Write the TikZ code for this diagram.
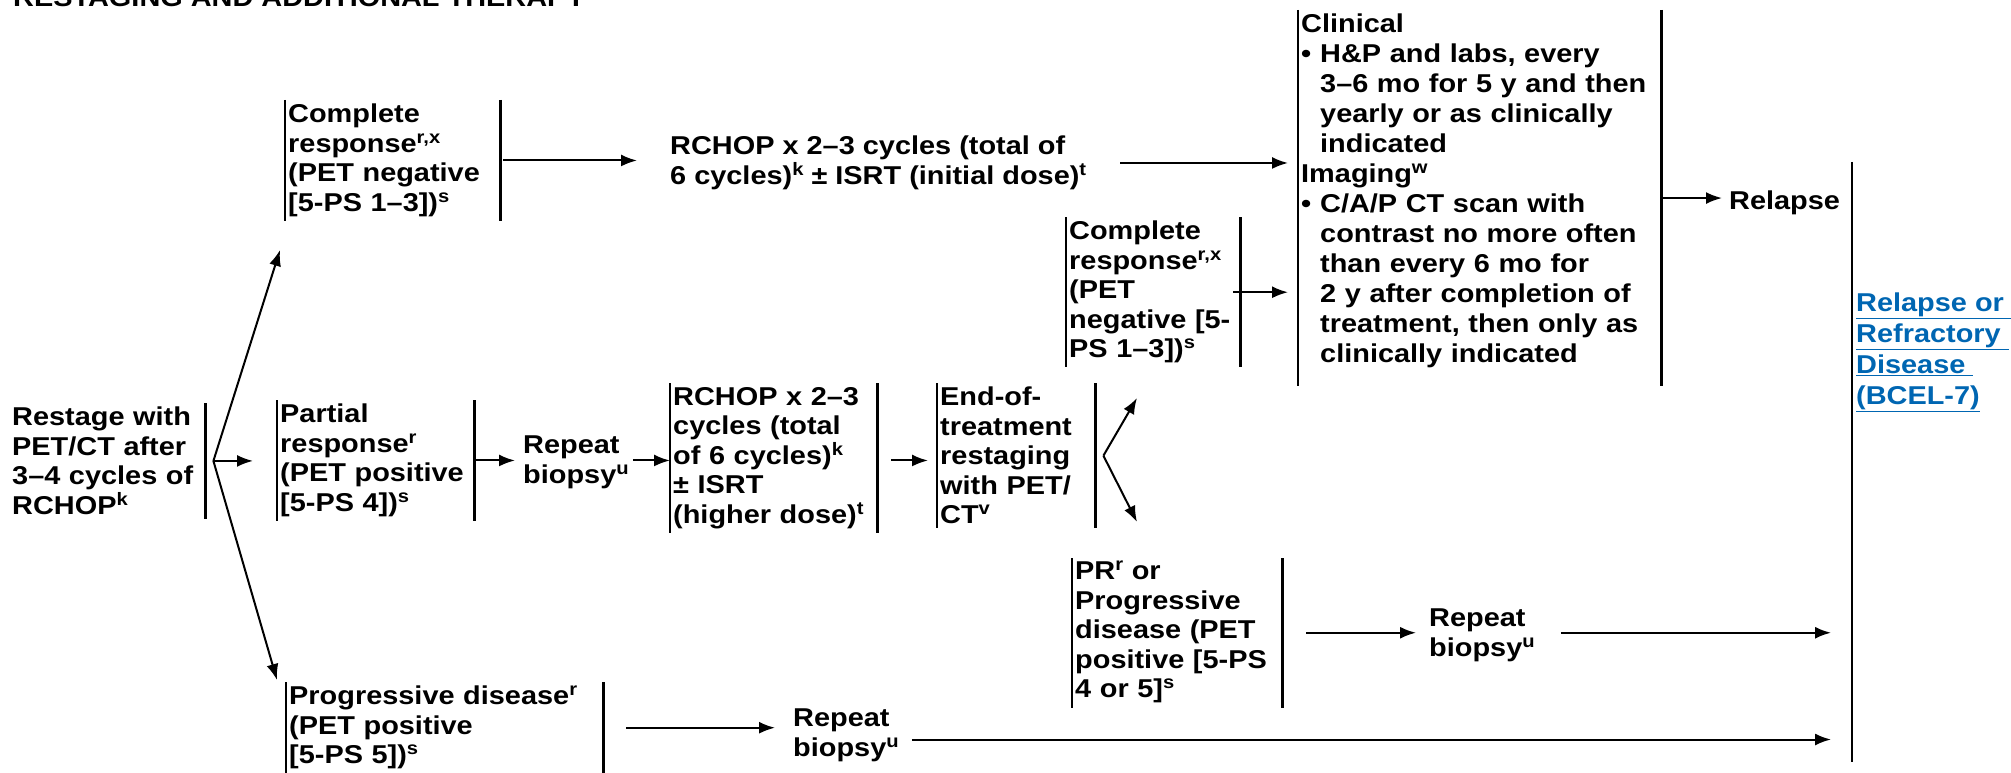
\documentclass[tikz,border=0pt]{standalone}
\usepackage{fontspec}
\usepackage{tikz}
\usetikzlibrary{arrows.meta,calc}
\newfontfamily\chartfont{Liberation Sans}[FakeStretch=1.12]
\definecolor{linkblue}{RGB}{0,102,178}
\newcommand{\gfont}{\chartfont\bfseries\fontsize{25.8}{29.5}\selectfont}
\newcommand{\gfontw}{\chartfont\bfseries\fontsize{25.8}{30}\selectfont}
\newcommand{\gfontl}{\chartfont\bfseries\fontsize{25.8}{31}\selectfont}
\newcommand{\supr}[1]{\smash{\raisebox{9pt}{\fontsize{18}{18}\selectfont #1}}}
\newcommand{\barw}{2.2pt}
\newcommand{\arrw}{2pt}

\begin{document}
\begin{tikzpicture}[x=1pt,y=-1pt]
        \tikzset{
            barline/.style = {line width=\barw},
            txt/.style = {anchor=north west, align=left, font=\gfont, inner sep=0pt},
            box/.style = {anchor=north west, align=left, font=\gfont, inner xsep=3pt, inner ysep=4pt,
                append after command={\pgfextra{\draw[barline] (\tikzlastnode.north west) -- (\tikzlastnode.south west)
                    (\tikzlastnode.north east) -- (\tikzlastnode.south east);}}},
            rbox/.style = {anchor=north west, align=left, font=\gfont, inner xsep=3pt, inner ysep=4pt,
                append after command={\pgfextra{\draw[barline] (\tikzlastnode.north east) -- (\tikzlastnode.south east);}}},
            lbox/.style = {anchor=north west, inner sep=0pt, minimum width=1pt,
                append after command={\pgfextra{\draw[barline] (\tikzlastnode.north west) -- (\tikzlastnode.south west);}}},
            arr/.style = {draw, line width=\arrw, -{Latex[length=16pt,width=12pt]}}
        }
        \useasboundingbox (0,0) rectangle (2011,773);
        
        \node[txt, anchor=base west] (title) at (13,7) {RESTAGING AND ADDITIONAL THERAPY};
        
        \node[rbox, text width=190pt] (restage) at (9,403) {Restage with\\PET/CT after\\3–4 cycles of\\RCHOP\supr{k}};
        
        \node[box, text width=209pt] (cr1) at (285,100) {Complete\\response\supr{r,x}\\(PET negative\\{[5-PS 1–3])}\supr{s}};
        \node[box, text width=191pt] (partial) at (277,400) {Partial\\response\supr{r}\\(PET positive\\{[5-PS 4])}\supr{s}};
        \node[box, text width=311pt] (pd) at (286,682) {Progressive disease\supr{r}\\(PET positive\\{[5-PS 5])}\supr{s}};
        
        \node[txt] (rchop1) at (670,136) {RCHOP x 2–3 cycles (total of\\6 cycles)\supr{k} ± ISRT (initial dose)\supr{t}};
        \node[txt] (rb1) at (523,436) {Repeat\\biopsy\supr{u}};
        \node[box, text width=201pt] (rchop2) at (670,383) {RCHOP x 2–3\\cycles (total\\of 6 cycles)\supr{k}\\± ISRT\\(higher dose)\supr{t}};
        \node[box, text width=152pt] (eot) at (937,383) {End-of-\\treatment\\restaging\\with PET/\\CT\supr{v}};
        
        \node[box, text width=168pt] (cr2) at (1066,217) {Complete\\response\supr{r,x}\\(PET\\negative {[5-}\\PS 1–3])\supr{s}};
        \node[box, text width=204pt] (pr) at (1072,558) {PR\supr{r} or\\Progressive\\disease (PET\\positive {[5-PS}\\4 or 5]\supr{s}};
        \node[txt] (rb2) at (1429,609) {Repeat\\biopsy\supr{u}};
        \node[txt] (rb3) at (793,709) {Repeat\\biopsy\supr{u}};
        
        \node[box, font=\gfontw, text width=357pt] (fu) at (1298,10) {Clinical\\
            \makebox[19pt][l]{\textbullet}H\&P and labs, every\\
            \hspace*{19pt}3–6 mo for 5 y and then\\
            \hspace*{19pt}yearly or as clinically\\
            \hspace*{19pt}indicated\\
            Imaging\supr{w}\\
            \makebox[19pt][l]{\textbullet}C/A/P CT scan with\\
            \hspace*{19pt}contrast no more often\\
            \hspace*{19pt}than every 6 mo for\\
            \hspace*{19pt}2 y after completion of\\
            \hspace*{19pt}treatment, then only as\\
            \hspace*{19pt}clinically indicated\rule[-19pt]{0pt}{19pt}};
        \node[txt] (relapse) at (1729,191) {Relapse};
        
        \node[lbox, minimum height=600pt] (refbox) at (1852,162) {};
        \node[txt, font=\gfontl, text=linkblue] (reftxt) at (1856,293) {\underline{Relapse or\ }\\\underline{Refractory\ }\\\underline{Disease\ }\\\underline{(BCEL-7)}};
        
        \coordinate (fork1) at ($(restage.east)+(8,0)$);
        \coordinate (up1) at (280,250);
        \coordinate (dn1) at (277,680);
        \coordinate (fork2) at ($(eot.east)+(8,0)$);
        \coordinate (up2) at (1137,398);
        \coordinate (dn2) at (1137,522);
        
        \draw[arr] (fork1) -- (up1);
        \draw[arr] (fork1) -- ($(partial.west |- fork1)+(-24,0)$);
        \draw[arr] (fork1) -- (dn1);
        
        \draw[arr] ($(cr1.east)+(3,0)$) -- ($(rchop1.west |- cr1.east)+(-33,0)$);
        \draw[arr] ($(rchop1.east)+(34,0)$) -- ($(fu.west |- rchop1.east)+(-10,0)$);
        
        \draw[arr] (partial.east) -- ($(rb1.west |- partial.east)+(-8,0)$);
        \draw[arr] ($(rb1.east |- partial.east)+(4,0)$) -- (rchop2.west |- partial.east);
        \draw[arr] ($(rchop2.east |- partial.east)+(14,0)$) -- ($(eot.west |- partial.east)+(-9,0)$);
        
        \draw[arr] (fork2) -- (up2);
        \draw[arr] (fork2) -- (dn2);
        
        \draw[arr] ($(cr2.east)+(-7,0)$) -- ($(fu.west |- cr2.east)+(-10,0)$);
        \draw[arr] (fu.east) -- ($(relapse.west |- fu.east)+(-7,0)$);
        
        \draw[arr] ($(pr.east)+(24,0)$) -- ($(rb2.west |- pr.east)+(-13,0)$);
        \draw[arr] ($(rb2.east |- pr.east)+(26,0)$) -- ($(refbox.west |- pr.east)+(-21,0)$);
        
        \draw[arr] ($(pd.east)+(23,0)$) -- ($(rb3.west |- pd.east)+(-18,0)$);
        \draw[arr] ($(rb3.east)+(13,4)$) -- ($(refbox.west |- rb3.east)+(-21,4)$);
        
    \end{tikzpicture}
\end{document}
